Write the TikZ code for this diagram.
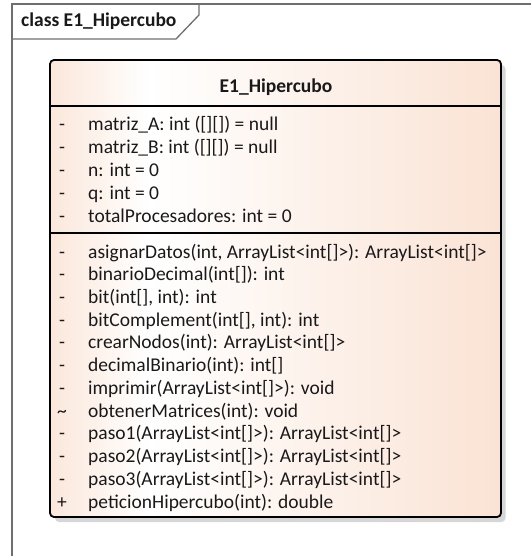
\documentclass[tikz,border=0pt]{standalone}
\usepackage{fontspec}
\setmainfont{Carlito}
\definecolor{peach}{RGB}{250,227,212}
\definecolor{framegray}{RGB}{110,110,110}
\definecolor{shadowgray}{RGB}{214,214,214}
\definecolor{textcol}{RGB}{25,25,25}
% left-to-right fill of the class box: peach, almost white near the left, peach again
\pgfdeclarehorizontalshading{umlfill}{100bp}{%
  color(0bp)=(peach); color(25bp)=(peach!85!white); color(36bp)=(white);
  color(75bp)=(peach); color(100bp)=(peach)}
\newcommand\umlfont{\fontsize{19.5}{22}\selectfont}
% one compartment row: visibility marker and member text
\newcommand\umlrow[4]{%
  \node[vis] (v#1) at (62,#2) {#3};
  \node[member] (#1) at (88,#2) {#4};}
\begin{document}
\begin{tikzpicture}[x=1pt,y=-1pt,
  frameline/.style={draw=framegray, line width=1.3pt},
  sepline/.style={draw=black, line width=1.6pt},
  member/.style={anchor=base west, font=\umlfont, text=textcol, inner sep=0pt},
  vis/.style={anchor=base, font=\umlfont, text=textcol, inner sep=0pt}]
\useasboundingbox (0,0) rectangle (530,556);

% diagram frame with its name tab
\draw[frameline] (12,570) -- (12,4) -- (545,4);
\draw[frameline] (12,39) -- (176,39) -- (199,15) -- (199,4);
\node[anchor=base west, font=\umlfont\bfseries, text=textcol, inner sep=0pt]
  (frametitle) at (21,27) {class E1\_Hipercubo};

% class box: shadow, shaded body, compartments
\fill[shadowgray, rounded corners=4pt] (55,65) rectangle (505.5,522);
\node[shading=umlfill, draw=black, line width=1.8pt, rounded corners=4pt,
  minimum width=451pt, minimum height=457pt, inner sep=0pt]
  (cls) at (275.5,288.5) {};
\draw[sepline] (cls.west |- 0,106) -- (cls.east |- 0,106);
\draw[sepline] (cls.west |- 0,233) -- (cls.east |- 0,233);

\node[anchor=base, font=\umlfont\bfseries, text=textcol, inner sep=0pt]
  (clsname) at (276,93) {E1\_Hipercubo};

% attributes
\umlrow{a1}{131}{-}{matriz\_A: int ([][]) = null}
\umlrow{a2}{153.75}{-}{matriz\_B: int ([][]) = null}
\umlrow{a3}{176.5}{-}{n: int = 0}
\umlrow{a4}{199.25}{-}{q: int = 0}
\umlrow{a5}{222}{-}{totalProcesadores: int = 0}

% operations
\umlrow{m1}{258}{-}{asignarDatos(int, ArrayList<int[]>): ArrayList<int[]>}
\umlrow{m2}{280.73}{-}{binarioDecimal(int[]): int}
\umlrow{m3}{303.45}{-}{bit(int[], int): int}
\umlrow{m4}{326.18}{-}{bitComplement(int[], int): int}
\umlrow{m5}{348.91}{-}{crearNodos(int): ArrayList<int[]>}
\umlrow{m6}{371.64}{-}{decimalBinario(int): int[]}
\umlrow{m7}{394.36}{-}{imprimir(ArrayList<int[]>): void}
\umlrow{m8}{417.09}{\textasciitilde}{obtenerMatrices(int): void}
\umlrow{m9}{439.82}{-}{paso1(ArrayList<int[]>): ArrayList<int[]>}
\umlrow{m10}{462.55}{-}{paso2(ArrayList<int[]>): ArrayList<int[]>}
\umlrow{m11}{485.27}{-}{paso3(ArrayList<int[]>): ArrayList<int[]>}
\umlrow{m12}{508}{+}{peticionHipercubo(int): double}
\end{tikzpicture}
\end{document}
